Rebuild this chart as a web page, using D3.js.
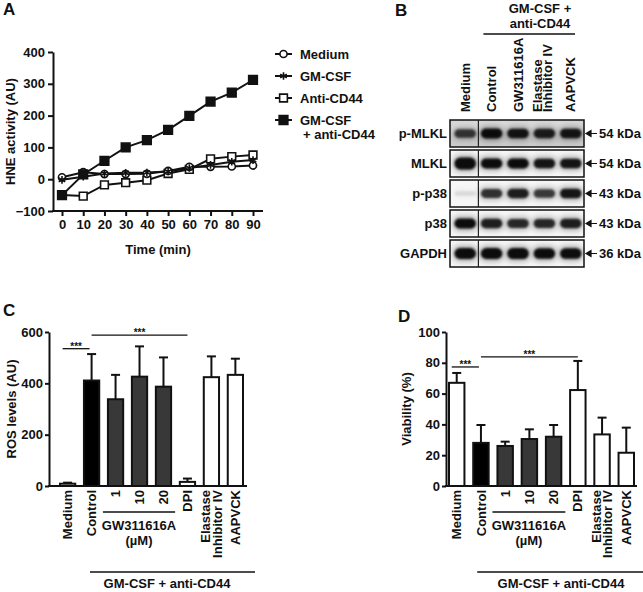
<!DOCTYPE html>
<html><head><meta charset="utf-8">
<script src="https://cdn.jsdelivr.net/npm/d3@7"></script>
<style>
body{margin:0;background:#fff}
svg text{font-family:"Liberation Sans",Arial,Helvetica,sans-serif;font-weight:bold;fill:#111}
</style></head>
<body><svg id="fig" width="643" height="592"></svg>
<script>
// ---------- Panel A data ----------
const timePoints = [0,10,20,30,40,50,60,70,80,90];
const hneSeriesNames = ["Medium","GM-CSF","Anti-CD44","GM-CSF","+ anti-CD44"];
const hneMedium   = [6,22,16,16,17,26,39,39,40,43];
const hneGMCSF    = [-2,8,18,20,21,24,35,45,55,60];
const hneAntiCD44 = [-50,-53,-18,-11,-3,18,31,64,71,76];
const hneCombo    = [-50,15,58,100,123,155,199,244,272,312];
const hneTicksY = [-100,0,100,200,300,400];

// ---------- Panel B data ----------
const blotRows = ["p-MLKL","MLKL","p-p38","p38","GAPDH"];
const blotKDa  = ["54 kDa","54 kDa","43 kDa","43 kDa","36 kDa"];
const blotLanes = [["Medium"],["Control"],["GW311616A"],["Elastase","Inhibitor IV"],["AAPVCK"]];
const blotBands = [
  [0.75,1.0,0.95,0.9,0.95],
  [1.3,1.0,1.0,0.95,0.95],
  [0.1,0.8,0.9,0.75,0.95],
  [1.0,0.9,0.85,0.85,0.9],
  [1.15,1.15,1.2,1.1,1.1]
];
const blotBackground = [0.2,0.03,0.03,0.03,0.03];
const blotHeader = ["GM-CSF +","anti-CD44"];

// ---------- Panels C & D data ----------
const barCategories = [["Medium"],["Control"],["1"],["10"],["20"],["DPI"],["Elastase","Inhibitor IV"],["AAPVCK"]];
const barGroups = ["none","control","gw","gw","gw","dpi","inhibitor","inhibitor"];
const rosMeans  = [9,411,338,426,387,16,424,433];
const rosErrTop = [13,514,433,544,501,29,505,496];
const rosTicks = [0,200,400,600];
const rosSig = [["Medium","Control",535],["Control","DPI",588]];
const viaMeans  = [67,28,26,30.5,32,62.3,33.5,21.6];
const viaErrTop = [73.4,39.6,28.8,36.8,39.6,81.2,44.4,37.9];
const viaTicks = [0,20,40,60,80,100];
const viaSig = [["Medium","Control",77.3],["Control","DPI",83.8]];
const gwLabel = ["GW311616A","(µM)"];
const treatLabel = "GM-CSF + anti-CD44";

// =====================================================
const svg = d3.select("#fig");
const FS = 13;

function panelLabel(t,x,y){
  svg.append("text").attr("x",x).attr("y",y).attr("font-size",17).text(t);
}
function styleAxis(g){
  g.selectAll("path,line").attr("stroke","#111").attr("stroke-width",2);
  g.selectAll("text").attr("font-size",FS).attr("fill","#111");
}

// ---------- Panel A ----------
panelLabel("A",3,15);
const xA = d3.scaleLinear().domain([0,90]).range([62,253]);
const yA = d3.scaleLinear().domain([-100,400]).range([211,52]);
const gAy = svg.append("g").attr("transform","translate(53,0)")
  .call(d3.axisLeft(yA).tickValues(hneTicksY).tickSize(5).tickSizeOuter(0).tickPadding(3));
styleAxis(gAy);
const gAx = svg.append("g").attr("transform","translate(0,211)")
  .call(d3.axisBottom(xA).tickValues(timePoints).tickSize(5).tickSizeOuter(0).tickPadding(4));
gAx.select(".domain").remove();
styleAxis(gAx);
svg.append("line").attr("x1",52).attr("x2",xA(90)+10).attr("y1",211).attr("y2",211)
  .attr("stroke","#111").attr("stroke-width",2);
svg.append("text").attr("transform","translate(15,"+((52+211)/2)+") rotate(-90)")
  .attr("text-anchor","middle").attr("font-size",FS).text("HNE activity (AU)");
svg.append("text").attr("x",158).attr("y",254).attr("text-anchor","middle").attr("font-size",FS).text("Time (min)");

const asterisk = d3.symbolAsterisk || d3.symbolCross;
const seriesA = [
  {vals:hneAntiCD44, sym:d3.symbolSquare, size:60, fill:"#fff"},
  {vals:hneMedium,  sym:d3.symbolCircle, size:40, fill:"#fff"},
  {vals:hneGMCSF,   sym:asterisk, size:40, fill:"none"},
  {vals:hneCombo,   sym:d3.symbolSquare, size:75, fill:"#111"}
];
const lineA = d3.line().x((d,i)=>xA(timePoints[i])).y(d=>yA(d));
seriesA.forEach(s=>{
  svg.append("path").attr("d",lineA(s.vals)).attr("fill","none").attr("stroke","#111").attr("stroke-width",2);
});
seriesA.forEach(s=>{
  svg.append("g").selectAll("path").data(s.vals).join("path")
    .attr("transform",(d,i)=>`translate(${xA(timePoints[i])},${yA(d)})`)
    .attr("d",d3.symbol().type(s.sym).size(s.size))
    .attr("fill",s.fill).attr("stroke","#111").attr("stroke-width",1.6);
});
// legend
const legOrder = [
  {sym:d3.symbolCircle,size:40,fill:"#fff",text:[hneSeriesNames[0]]},
  {sym:asterisk,size:40,fill:"none",text:[hneSeriesNames[1]]},
  {sym:d3.symbolSquare,size:60,fill:"#fff",text:[hneSeriesNames[2]]},
  {sym:d3.symbolSquare,size:75,fill:"#111",text:[hneSeriesNames[3],hneSeriesNames[4]]}
];
legOrder.forEach((l,i)=>{
  const y = 54 + i*22;
  svg.append("line").attr("x1",275).attr("x2",292).attr("y1",y).attr("y2",y).attr("stroke","#111").attr("stroke-width",2);
  svg.append("path").attr("transform",`translate(283.5,${y})`).attr("d",d3.symbol().type(l.sym).size(l.size))
    .attr("fill",l.fill).attr("stroke","#111").attr("stroke-width",1.6);
  l.text.forEach((t,j)=>{
    svg.append("text").attr("x",j? 303:300).attr("y",y+4.5+j*14.5).attr("font-size",FS).text(t);
  });
});

// ---------- Panel B ----------
panelLabel("B",395,16);
const defs = svg.append("defs");
defs.append("filter").attr("id","blur1").attr("x","-30%").attr("y","-100%").attr("width","160%").attr("height","300%")
  .append("feGaussianBlur").attr("stdDeviation",1.3);
defs.append("filter").attr("id","blur3").attr("x","-30%").attr("y","-100%").attr("width","160%").attr("height","300%")
  .append("feGaussianBlur").attr("stdDeviation",3);
const laneX = d3.scaleBand().domain(d3.range(blotLanes.length)).range([452,584]);
const rowY = d3.scaleBand().domain(d3.range(blotRows.length)).range([120,267]).paddingInner(0.1);
blotRows.forEach((r,ri)=>{
  const y0 = rowY(ri), h = rowY.bandwidth(), cy = y0+h/2;
  const clipId = "clip"+ri;
  defs.append("clipPath").attr("id",clipId).append("rect").attr("x",450).attr("y",y0).attr("width",134).attr("height",h);
  const g = svg.append("g").attr("clip-path",`url(#${clipId})`);
  const bg = Math.round(255*(1-blotBackground[ri]));
  g.append("rect").attr("x",450).attr("y",y0).attr("width",134).attr("height",h).attr("fill",`rgb(${bg},${bg},${bg})`);
  if(blotBackground[ri]>0.1){
    g.append("rect").attr("x",450).attr("y",y0).attr("width",134).attr("height",h*0.45)
      .attr("fill","#fff").attr("opacity",0.35).attr("filter","url(#blur3)");
  }
  blotBands[ri].forEach((v,li)=>{
    const cx = laneX(li)+laneX.bandwidth()/2;
    const bw = laneX.bandwidth()-3;
    const bh = 4+6*v;
    g.append("rect").attr("x",cx-bw/2).attr("y",cy-bh/2-2).attr("width",bw).attr("height",bh+4)
      .attr("rx",bh/2).attr("fill","#000").attr("opacity",Math.min(1,v)*0.35).attr("filter","url(#blur3)");
    g.append("rect").attr("x",cx-bw/2+1).attr("y",cy-bh/2).attr("width",bw-2).attr("height",bh)
      .attr("rx",bh/2).attr("fill","#000").attr("opacity",Math.min(1,v)*0.92).attr("filter","url(#blur1)");
  });
  svg.append("rect").attr("x",450).attr("y",y0).attr("width",134).attr("height",h)
    .attr("fill","none").attr("stroke","#111").attr("stroke-width",1.5);
  svg.append("line").attr("x1",laneX(1)).attr("x2",laneX(1)).attr("y1",y0).attr("y2",y0+h).attr("stroke","#222").attr("stroke-width",1.2);
  svg.append("text").attr("x",447).attr("y",cy+4.5).attr("text-anchor","end").attr("font-size",FS).text(r);
  // arrow + kDa
  svg.append("path").attr("d",`M586,${cy} l5,-3 v6 z M590,${cy} H597`).attr("stroke","#111").attr("stroke-width",1.2).attr("fill","#111");
  svg.append("text").attr("x",599).attr("y",cy+4.5).attr("font-size",FS).text(blotKDa[ri]);
});
blotLanes.forEach((lines,li)=>{
  const cx = laneX(li)+laneX.bandwidth()/2;
  lines.forEach((t,j)=>{
    const off = lines.length>1 ? (j-0.5)*10.5 : 0;
    svg.append("text").attr("transform",`translate(${cx+off+4.6-(lines.length>1?2:0)},112) rotate(-90)`)
      .attr("font-size",FS).text(t);
  });
});
svg.append("text").attr("x",540).attr("y",13).attr("text-anchor","middle").attr("font-size",FS).text(blotHeader[0]);
svg.append("text").attr("x",540).attr("y",28).attr("text-anchor","middle").attr("font-size",FS).text(blotHeader[1]);
svg.append("line").attr("x1",laneX(1)+5).attr("x2",584-9).attr("y1",34).attr("y2",34).attr("stroke","#111").attr("stroke-width",1.3);

// ---------- Bar panels ----------
const groupFill = d3.scaleOrdinal().domain(["none","control","gw","dpi","inhibitor"])
  .range(["#fff","#000","#383838","#fff","#fff"]);

function barPanel(o){
  const cats = barCategories.map(c=>c.join(" "));
  const x = d3.scaleBand().domain(cats).range(o.xr).paddingInner(0.28).paddingOuter(0);
  const y = d3.scaleLinear().domain([0,o.max]).range([486,332]);
  const gy = svg.append("g").attr("transform",`translate(${o.axisX},0)`)
    .call(d3.axisLeft(y).tickValues(o.ticks).tickSize(4).tickSizeOuter(0).tickPadding(2));
  styleAxis(gy);
  svg.append("line").attr("x1",o.axisX-1).attr("x2",o.xEnd).attr("y1",486).attr("y2",486).attr("stroke","#111").attr("stroke-width",2);
  svg.append("text").attr("transform",`translate(${o.labX},409) rotate(-90)`).attr("text-anchor","middle")
    .attr("font-size",FS).text(o.ylabel);
  const cxOf = c=>x(c)+x.bandwidth()/2;
  // error bars
  cats.forEach((c,i)=>{
    const cx = cxOf(c);
    svg.append("line").attr("x1",cx).attr("x2",cx).attr("y1",y(o.means[i])).attr("y2",y(o.err[i])).attr("stroke","#111").attr("stroke-width",2);
    svg.append("line").attr("x1",cx-4.5).attr("x2",cx+4.5).attr("y1",y(o.err[i])).attr("y2",y(o.err[i])).attr("stroke","#111").attr("stroke-width",2);
  });
  svg.append("g").selectAll("rect").data(cats).join("rect")
    .attr("x",c=>x(c)+1).attr("width",x.bandwidth()-2)
    .attr("y",(c,i)=>y(o.means[i])).attr("height",(c,i)=>Math.max(0,486-y(o.means[i])))
    .attr("fill",(c,i)=>groupFill(barGroups[i])).attr("stroke","#111").attr("stroke-width",2);
  // tick labels rotated
  barCategories.forEach((lines,i)=>{
    const cx = cxOf(cats[i]);
    lines.forEach((t,j)=>{
      const off = lines.length>1 ? (j-0.5)*11.5 : 0;
      svg.append("text").attr("transform",`translate(${cx+off+4.6},490) rotate(-90)`)
        .attr("text-anchor","end").attr("font-size",FS).text(t);
    });
  });
  // significance
  o.sig.forEach((s,k)=>{
    const a = cxOf(s[0]) - (k===0?5:0), b = cxOf(s[1]) + (k===0?-2:0);
    const ly = y(s[2]);
    svg.append("line").attr("x1",a).attr("x2",b).attr("y1",ly).attr("y2",ly).attr("stroke","#111").attr("stroke-width",1.3);
    svg.append("text").attr("x",(a+b)/2).attr("y",ly+1).attr("text-anchor","middle").attr("font-size",10).text("***");
  });
  // GW bracket
  const gwA = x(cats[2]) - 4, gwB = x(cats[4]) + x.bandwidth()+3;
  svg.append("line").attr("x1",gwA).attr("x2",gwB).attr("y1",512).attr("y2",512).attr("stroke","#111").attr("stroke-width",1.3);
  svg.append("text").attr("x",(gwA+gwB)/2).attr("y",530).attr("text-anchor","middle").attr("font-size",FS).text(gwLabel[0]);
  svg.append("text").attr("x",(gwA+gwB)/2).attr("y",545).attr("text-anchor","middle").attr("font-size",FS).text(gwLabel[1]);
  svg.append("line").attr("x1",x(cats[1])+o.trA).attr("x2",o.trB).attr("y1",572).attr("y2",572).attr("stroke","#111").attr("stroke-width",1.3);
  svg.append("text").attr("x",o.trC).attr("y",588).attr("text-anchor","middle").attr("font-size",FS).text(treatLabel);
}
panelLabel("C",3,316);
barPanel({xr:[59,244],axisX:49,xEnd:247,max:600,ticks:rosTicks,means:rosMeans,err:rosErrTop,sig:rosSig,
  ylabel:"ROS levels (AU)",labX:16,trA:7,trB:255,trC:167});
panelLabel("D",398,322);
barPanel({xr:[448,635],axisX:446,xEnd:637,max:100,ticks:viaTicks,means:viaMeans,err:viaErrTop,sig:viaSig,
  ylabel:"Viability (%)",labX:411,trA:5,trB:643,trC:561});
</script></body></html>
